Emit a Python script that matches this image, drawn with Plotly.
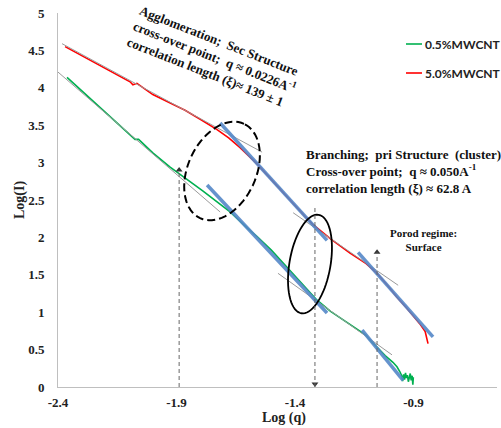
import numpy as np
import plotly.graph_objects as go

# ---- data ----
red_x = [-2.370, -2.30, -2.20, -2.096, -2.084, -2.067, -2.00, -1.927, -1.864, -1.80,
         -1.729, -1.68, -1.632, -1.556, -1.50, -1.43, -1.36, -1.324, -1.25, -1.168,
         -1.10, -1.054, -1.00, -0.970, -0.93, -0.902, -0.875, -0.851, -0.839]
red_y = [4.55, 4.43, 4.26, 4.08, 4.04, 4.06, 3.91, 3.80, 3.70, 3.58,
         3.44, 3.33, 3.20, 2.97, 2.78, 2.53, 2.29, 2.17, 1.98, 1.79,
         1.65, 1.52, 1.32, 1.20, 1.06, 0.96, 0.85, 0.74, 0.58]

green_x = [-2.362, -2.30, -2.20, -2.092, -2.075, -2.06, -2.00, -1.927, -1.894, -1.84,
           -1.788, -1.73, -1.674, -1.60, -1.56, -1.50, -1.43, -1.36, -1.307, -1.25,
           -1.168, -1.10, -1.084, -1.054, -1.02, -0.987, -0.970, -0.957, -0.950, -0.946,
           -0.942, -0.938, -0.934, -0.930, -0.926, -0.922, -0.918, -0.914, -0.910, -0.906,
           -0.903, -0.901]
green_y = [4.14, 3.96, 3.67, 3.36, 3.31, 3.31, 3.13, 2.94, 2.86, 2.74,
           2.62, 2.48, 2.34, 2.12, 2.01, 1.83, 1.59, 1.35, 1.16, 1.01,
           0.83, 0.69, 0.63, 0.53, 0.42, 0.33, 0.27, 0.20, 0.15, 0.08,
           0.17, 0.10, 0.19, 0.12, 0.16, 0.07, 0.14, 0.18, 0.09, 0.15,
           0.03, 0.13]

# power-law fit segments (blue)
fit_red_branch_x, fit_red_branch_y = [-1.716, -1.265], [3.53, 1.96]
fit_green_branch_x, fit_green_branch_y = [-1.771, -1.265], [2.70, 0.99]
fit_red_porod_x, fit_red_porod_y = [-1.134, -0.818], [1.80, 0.67]
fit_green_porod_x, fit_green_porod_y = [-1.117, -0.944], [0.76, 0.09]
# tangent segments (grey)
tan_red_agg_x, tan_red_agg_y = [-2.383, -1.539], [4.59, 3.14]
tan_green_agg_x, tan_green_agg_y = [-2.40, -1.716], [4.21, 2.34]
tan_red_br_x, tan_red_br_y = [-1.408, -0.965], [2.33, 1.36]
tan_green_br_x, tan_green_br_y = [-1.472, -0.991], [1.52, 0.43]

# cross-over markers
cross_x = [-1.889, -1.316, -1.054]
cross_top = [2.90, 2.43, 1.80]

x_ticks = [-2.4, -1.9, -1.4, -0.9]
y_ticks = [0, 0.5, 1, 1.5, 2, 2.5, 3, 3.5, 4, 4.5, 5]

GREEN = "#00B050"
RED = "#FF0000"
BLUE = "rgba(84,135,200,0.9)"
GREY = "#9a9a9a"
SERIF = "Liberation Serif"

X_RANGE = [-2.4, -0.548]
Y_RANGE = [0, 5]
L, R, T, B = 58, 4, 13, 41
W, H = 501, 428
PW, PH = W - L - R, H - T - B
SX = PW / (X_RANGE[1] - X_RANGE[0])
SY = PH / (Y_RANGE[1] - Y_RANGE[0])

fig = go.Figure()
fig.add_trace(go.Scatter(x=green_x, y=green_y, mode="lines",
                         line=dict(color=GREEN, width=1.6), name="0.5%MWCNT"))
fig.add_trace(go.Scatter(x=red_x, y=red_y, mode="lines",
                         line=dict(color=RED, width=1.6), name="5.0%MWCNT"))
for gx, gy in [(tan_red_agg_x, tan_red_agg_y), (tan_green_agg_x, tan_green_agg_y),
               (tan_red_br_x, tan_red_br_y), (tan_green_br_x, tan_green_br_y)]:
    fig.add_trace(go.Scatter(x=gx, y=gy, mode="lines", line=dict(color=GREY, width=1)))
for bx, by in [(fit_red_branch_x, fit_red_branch_y), (fit_green_branch_x, fit_green_branch_y),
               (fit_red_porod_x, fit_red_porod_y), (fit_green_porod_x, fit_green_porod_y)]:
    fig.add_trace(go.Scatter(x=bx, y=by, mode="lines", line=dict(color=BLUE, width=3.5)))

# arrowheads at the cross-over markers
fig.add_trace(go.Scatter(x=[cross_x[0], cross_x[2]], y=[cross_top[0], cross_top[2]],
                         mode="markers", cliponaxis=False,
                         marker=dict(symbol="triangle-up", size=6, color="#333")))
fig.add_trace(go.Scatter(x=[cross_x[1]], y=[0.04], mode="markers", cliponaxis=False,
                         marker=dict(symbol="triangle-down", size=6, color="#333")))


def ellipse_path(cx, cy, a_px, b_px, ang_deg):
    t = np.linspace(0, 2 * np.pi, 73)
    th = np.radians(ang_deg)
    dx = a_px * np.cos(t) * np.cos(th) - b_px * np.sin(t) * np.sin(th)
    dy = a_px * np.cos(t) * np.sin(th) + b_px * np.sin(t) * np.cos(th)
    xs = cx + dx / SX
    ys = cy + dy / SY
    pts = [f"{x:.5f},{y:.5f}" for x, y in zip(xs, ys)]
    return "M " + " L ".join(pts) + " Z"


shapes = [
    dict(type="path", path=ellipse_path(-1.708, 2.888, 52, 34, 65), xref="x", yref="y",
         line=dict(color="black", width=2, dash="8px,4px")),
    dict(type="path", path=ellipse_path(-1.337, 1.644, 50, 20.5, 80), xref="x", yref="y",
         line=dict(color="black", width=1.8)),
]
for cx, ct in zip(cross_x, cross_top):
    shapes.append(dict(type="line", xref="x", yref="y", x0=cx, x1=cx, y0=0, y1=ct,
                       line=dict(color="#666666", width=1, dash="4px,3px")))


def px2paper(px, py):
    return (px - L) / PW, (H - B - py) / PH


# manual legend
for (py, col) in [(44, GREEN), (73, RED)]:
    x0, y0 = px2paper(406, py)
    x1, _ = px2paper(422, py)
    shapes.append(dict(type="line", xref="paper", yref="paper", x0=x0, x1=x1, y0=y0, y1=y0,
                       line=dict(color=col, width=1.6)))

annotations = []
NB = "\u00a0"
annotations.append(dict(
    x=-1.738, y=4.41, xref="x", yref="y", showarrow=False, textangle=21.5, align="left",
    xanchor="center", yanchor="middle",
    text=f"Agglomeration;{NB}{NB}Sec Structure<br>cross-over point;{NB}{NB}q ≈ 0.0226A<sup>-1</sup>"
         f"<br>correlation length (ξ)≈ 139 ± 1",
    font=dict(family=SERIF, size=13, color="#111", weight="bold")))
annotations.append(dict(
    x=-1.362, y=3.23, xref="x", yref="y", showarrow=False, align="left",
    xanchor="left", yanchor="top",
    text=f"Branching;{NB}{NB}pri Structure{NB}{NB}(cluster)<br>Cross-over point;{NB}{NB}q ≈ 0.050A<sup>-1</sup>"
         f"<br>correlation length (ξ) ≈ 62.8 A",
    font=dict(family=SERIF, size=13, color="#111", weight="bold")))
annotations.append(dict(
    x=-0.86, y=1.97, xref="x", yref="y", showarrow=False, align="center",
    xanchor="center", yanchor="middle",
    text="Porod regime:<br>Surface",
    font=dict(family=SERIF, size=11, color="#111", weight="bold")))

# legend texts
for py, txt in [(44, "0.5%MWCNT"), (73, "5.0%MWCNT")]:
    xp, yp = px2paper(423, py)
    annotations.append(dict(x=xp, y=yp, xref="paper", yref="paper", text=txt, showarrow=False,
                            xanchor="left", yanchor="middle",
                            font=dict(family="Lato", size=12, color="#222", weight="bold")))

# axis titles
xp, yp = px2paper(20, 200)
annotations.append(dict(x=xp, y=yp, xref="paper", yref="paper", text="Log(I)", showarrow=False,
                        xanchor="center", yanchor="middle",
                        textangle=-90, font=dict(family=SERIF, size=14, color="#222", weight="bold")))
xp, yp = px2paper(284, 418)
annotations.append(dict(x=xp, y=yp, xref="paper", yref="paper", text="Log (q)", showarrow=False,
                        xanchor="center", yanchor="middle",
                        font=dict(family=SERIF, size=14, color="#222", weight="bold")))

fig.update_layout(
    width=W, height=H, autosize=False,
    margin=dict(l=L, r=R, t=T, b=B, pad=0),
    paper_bgcolor="white", plot_bgcolor="white",
    showlegend=False,
    shapes=shapes, annotations=annotations,
    xaxis=dict(range=X_RANGE, tickvals=x_ticks, ticktext=[str(v) for v in x_ticks],
               showgrid=False, zeroline=False, showline=True, linecolor="#BFBFBF", linewidth=1,
               ticks="", ticklabelstandoff=3,
               tickfont=dict(family=SERIF, size=13, color="#222", weight="bold")),
    yaxis=dict(range=Y_RANGE, tickvals=y_ticks, ticktext=[f"{v:g}" for v in y_ticks],
               showgrid=False, zeroline=False, showline=True, linecolor="#BFBFBF", linewidth=1,
               ticks="", ticklabelstandoff=10,
               tickfont=dict(family=SERIF, size=13, color="#222", weight="bold")),
)

fig.write_html("out.html", config={"displayModeBar": False},
               post_script="document.body.style.margin='0';document.body.style.padding='0';")
